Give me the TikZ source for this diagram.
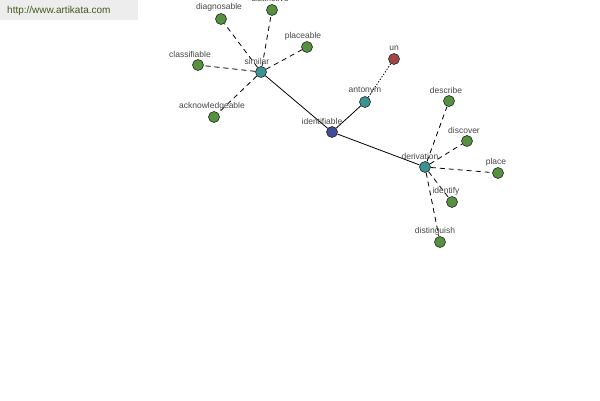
\documentclass[tikz,border=0pt]{standalone}
\usepackage{fontspec}
\setmainfont{Liberation Sans}
\definecolor{ngreen}{HTML}{55913F}
\definecolor{nteal}{HTML}{3A9494}
\definecolor{nblue}{HTML}{3F4C9A}
\definecolor{nred}{HTML}{A04444}
\definecolor{urlc}{HTML}{3F5A1E}
\begin{document}
\begin{tikzpicture}[x=1pt,y=-1pt,
  dot/.style={circle,draw=black!85,line width=0.6pt,minimum size=11pt,inner sep=0pt},
  lab/.style={font=\fontsize{8.5}{10}\selectfont,text=black!72,inner sep=0pt},
  dsh/.style={dash pattern=on 5pt off 4pt,line width=0.8pt},
  sol/.style={line width=0.8pt},
  dot line/.style={dash pattern=on 1.2pt off 1.8pt,line width=0.9pt}]
\useasboundingbox[fill=white] (0,0) rectangle (600,400);
\fill[black!7] (0,0) rectangle (138,20);
\node[anchor=west,font=\fontsize{10}{12}\selectfont,text=urlc,inner sep=0pt] (url) at (7,11) {http://www.artikata.com};
% nodes
\node[dot,fill=nblue] (idf) at (332,132) {};
\node[dot,fill=nteal] (sim) at (261,72) {};
\node[dot,fill=nteal] (ant) at (365,102) {};
\node[dot,fill=nred] (un) at (394,59) {};
\node[dot,fill=nteal] (der) at (425,167) {};
\node[dot,fill=ngreen] (dia) at (221,19) {};
\node[dot,fill=ngreen] (dis) at (272,10) {};
\node[dot,fill=ngreen] (pla) at (307,47) {};
\node[dot,fill=ngreen] (cla) at (198,65) {};
\node[dot,fill=ngreen] (ack) at (214,117) {};
\node[dot,fill=ngreen] (des) at (449,101) {};
\node[dot,fill=ngreen] (dsc) at (467,141) {};
\node[dot,fill=ngreen] (plc) at (498,173) {};
\node[dot,fill=ngreen] (ide) at (452,202) {};
\node[dot,fill=ngreen] (dst) at (440,242) {};
% edges
\draw[sol] (sim) -- (idf);
\draw[sol] (idf) -- (ant);
\draw[sol] (idf) -- (der);
\draw[dot line] (ant) -- (un);
\foreach \n in {dia,dis,pla,cla,ack} \draw[dsh] (sim) -- (\n);
\foreach \n in {des,dsc,plc,ide,dst} \draw[dsh] (der) -- (\n);
% labels
\node[lab] (lidf) at (322,121) {identifiable};
\node[lab] (lsim) at (257,61) {similar};
\node[lab] (lant) at (365,91) {antonym};
\node[lab] (lun) at (394,48) {un};
\node[lab] (lder) at (420,156) {derivation};
\node[lab] (ldia) at (219,7) {diagnosable};
\node[lab] (ldis) at (270,-2) {distinctive};
\node[lab] (lpla) at (303,36) {placeable};
\node[lab] (lcla) at (190,54) {classifiable};
\node[lab] (lack) at (212,106) {acknowledgeable};
\node[lab] (ldes) at (446,90) {describe};
\node[lab] (ldsc) at (464,130) {discover};
\node[lab] (lplc) at (496,162) {place};
\node[lab] (lide) at (446,191) {identify};
\node[lab] (ldst) at (435,231) {distinguish};
\end{tikzpicture}
\end{document}
